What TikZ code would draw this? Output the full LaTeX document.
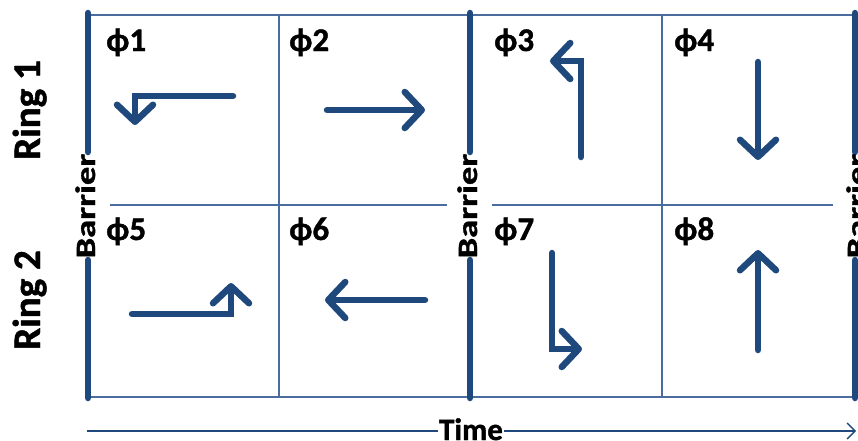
\documentclass[tikz,border=0pt]{standalone}
\usepackage{fontspec}
\setmainfont{Carlito}[BoldFeatures={FakeBold=1.2}]
\usetikzlibrary{arrows.meta}
\definecolor{navy}{HTML}{1F497D}
\definecolor{gridblue}{HTML}{4A6C9F}
\begin{document}
\begin{tikzpicture}[x=1pt,y=-1pt,
  gridline/.style={draw=gridblue,line width=1.6pt},
  barrier/.style={draw=navy,line width=6.5pt,line cap=round},
  move/.style={draw=navy,line width=6.5pt,line cap=round,
    -{Straight Barb[length=17pt,width=36pt,round]}},
  phase/.style={font=\bfseries\fontsize{33}{33}\selectfont,anchor=base west,inner sep=0pt},
  ring/.style={font=\bfseries\fontsize{39}{39}\selectfont,rotate=90,anchor=base,inner sep=0pt},
  barlabel/.style={font=\bfseries\fontsize{28}{28}\selectfont,rotate=90,anchor=base,inner sep=0pt},
  timelabel/.style={font=\bfseries\fontsize{31}{31}\selectfont,anchor=base,inner sep=1pt}]
\useasboundingbox (0,0) rectangle (858,440);

% grid of the eight phases
\draw[gridline] (88,15) -- (854,15);
\draw[gridline] (88,397) -- (854,397);
\draw[gridline] (279,15) -- (279,397);
\draw[gridline] (662,15) -- (662,397);
\draw[gridline] (110,205) -- (447,205);
\draw[gridline] (492,205) -- (833,205);

% barriers with their labels
\foreach \bx/\lx in {88/95, 470/477, 855/866}{
  \draw[barrier] (\bx,13) -- (\bx,152);
  \draw[barrier] (\bx,260) -- (\bx,398);
  \node[barlabel] at (\lx,206) {\scalebox{1.3}[1]{Barrier}};
}

% ring labels
\node[ring] (ring1) at (40,110) {Ring 1};
\node[ring] (ring2) at (40,300) {Ring 2};

% phase labels
\node[phase] (p1) at (106,51) {ϕ1};
\node[phase] (p2) at (289,51) {ϕ2};
\node[phase] (p3) at (494,51) {ϕ3};
\node[phase] (p4) at (674,51) {ϕ4};
\node[phase] (p5) at (106,240) {ϕ5};
\node[phase] (p6) at (289,240) {ϕ6};
\node[phase] (p7) at (494,240) {ϕ7};
\node[phase] (p8) at (674,240) {ϕ8};

% movement arrows
\draw[move] (233,96) -- (135,96) -- (135,125);
\draw[move] (327,110) -- (425,110);
\draw[move] (581,157) -- (581,61) -- (550,61);
\draw[move] (758,62) -- (758,160);
\draw[move] (132,314) -- (231,314) -- (231,283);
\draw[move] (425,300) -- (325,300);
\draw[move] (552,253) -- (552,349) -- (582,349);
\draw[move] (758,350) -- (758,250);

% time axis
\node[timelabel] (time) at (471,440) {Time};
\coordinate (tstart) at (87,431);
\coordinate (tend) at (856,431);
\draw[navy,line width=1.3pt] (tstart) -- (time.west |- tstart);
\draw[navy,line width=1.3pt,-{Straight Barb[length=8pt,width=16pt]}] (time.east |- tstart) -- (tend);
\end{tikzpicture}
\end{document}
